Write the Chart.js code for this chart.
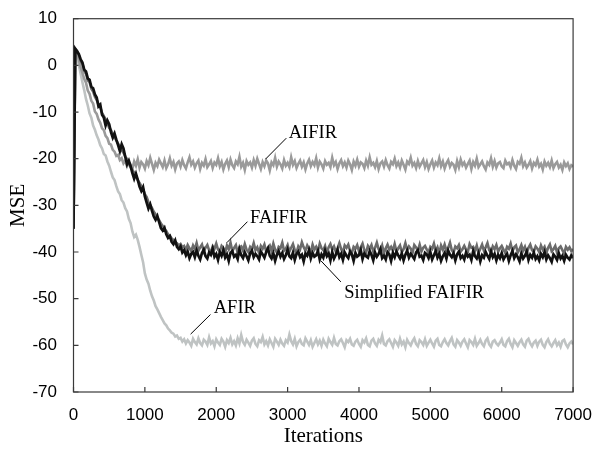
<!DOCTYPE html>
<html>
<head>
<meta charset="utf-8">
<script src="https://cdn.jsdelivr.net/npm/chart.js@4"></script>
<style>
  body { margin: 0; background: #fff; }
  canvas { display: block; }
</style>
</head>
<body>
<canvas id="mseChart" width="597" height="450"></canvas>
<script>
// Iterationen (gemeinsame x-Werte aller Kurven), je Zeile 500 Iterationen
const iterations = [
  0, 25, 50, 75, 100, 125, 150, 175, 200, 225, 250, 275, 300, 325, 350, 375, 400, 425, 450, 475,
  500, 525, 550, 575, 600, 625, 650, 675, 700, 725, 750, 775, 800, 825, 850, 875, 900, 925, 950, 975,
  1000, 1025, 1050, 1075, 1100, 1125, 1150, 1175, 1200, 1225, 1250, 1275, 1300, 1325, 1350, 1375, 1400, 1425, 1450, 1475,
  1500, 1525, 1550, 1575, 1600, 1625, 1650, 1675, 1700, 1725, 1750, 1775, 1800, 1825, 1850, 1875, 1900, 1925, 1950, 1975,
  2000, 2025, 2050, 2075, 2100, 2125, 2150, 2175, 2200, 2225, 2250, 2275, 2300, 2325, 2350, 2375, 2400, 2425, 2450, 2475,
  2500, 2525, 2550, 2575, 2600, 2625, 2650, 2675, 2700, 2725, 2750, 2775, 2800, 2825, 2850, 2875, 2900, 2925, 2950, 2975,
  3000, 3025, 3050, 3075, 3100, 3125, 3150, 3175, 3200, 3225, 3250, 3275, 3300, 3325, 3350, 3375, 3400, 3425, 3450, 3475,
  3500, 3525, 3550, 3575, 3600, 3625, 3650, 3675, 3700, 3725, 3750, 3775, 3800, 3825, 3850, 3875, 3900, 3925, 3950, 3975,
  4000, 4025, 4050, 4075, 4100, 4125, 4150, 4175, 4200, 4225, 4250, 4275, 4300, 4325, 4350, 4375, 4400, 4425, 4450, 4475,
  4500, 4525, 4550, 4575, 4600, 4625, 4650, 4675, 4700, 4725, 4750, 4775, 4800, 4825, 4850, 4875, 4900, 4925, 4950, 4975,
  5000, 5025, 5050, 5075, 5100, 5125, 5150, 5175, 5200, 5225, 5250, 5275, 5300, 5325, 5350, 5375, 5400, 5425, 5450, 5475,
  5500, 5525, 5550, 5575, 5600, 5625, 5650, 5675, 5700, 5725, 5750, 5775, 5800, 5825, 5850, 5875, 5900, 5925, 5950, 5975,
  6000, 6025, 6050, 6075, 6100, 6125, 6150, 6175, 6200, 6225, 6250, 6275, 6300, 6325, 6350, 6375, 6400, 6425, 6450, 6475,
  6500, 6525, 6550, 6575, 6600, 6625, 6650, 6675, 6700, 6725, 6750, 6775, 6800, 6825, 6850, 6875, 6900, 6925, 6950, 6975,
  7000
];

// MSE-Werte in dB
const simplifiedFaifir = [
  -35, 3.5, 3.0, 2.4, 1.3, 0.6, -0.9, -1.3, -2.8, -3.1, -4.6, -4.9, -6.2, -6.9, -8.8, -8.4, -10.6, -11.2, -12.9, -11.8,
  -12.6, -14.3, -15.5, -14.6, -15.9, -17.1, -18.4, -16.9, -17.8, -19.6, -21.2, -20.4, -21.6, -23.1, -24.3, -23.2, -24.5, -26.0, -26.9, -26.1,
  -28.1, -29.4, -30.7, -29.8, -31.2, -32.4, -33.1, -32.3, -33.6, -34.9, -35.4, -34.8, -36.2, -37.0, -36.6, -37.8, -38.3, -37.5, -38.9, -39.4,
  -38.8, -40.1, -39.6, -40.7, -39.9, -41.3, -40.4, -40.0, -41.1, -39.7, -40.8, -41.6, -40.2, -39.5, -40.9, -41.4, -40.1, -40.6, -39.3, -41.0,
  -40.4, -41.7, -40.0, -40.8, -39.6, -41.2, -40.5, -41.9, -40.2, -39.8, -41.0, -40.6, -41.5, -39.4, -40.7, -41.3, -40.1, -40.9, -41.8, -40.3,
  -39.7, -41.1, -40.4, -40.9, -41.6, -39.9, -40.5, -41.2, -40.0, -39.2, -40.8, -41.4, -40.3, -41.9, -40.6, -39.8, -41.0, -40.2, -41.5, -40.7,
  -39.5, -40.9, -41.3, -40.1, -41.7, -40.4, -39.9, -41.1, -40.6, -42.0, -40.3, -40.8, -39.6, -41.4, -40.2, -41.0, -40.7, -39.8, -41.6, -40.5,
  -41.2, -39.7, -40.9, -40.3, -41.8, -40.0, -41.4, -40.6, -39.5, -41.1, -40.4, -41.7, -40.1, -40.8, -41.3, -39.9, -40.5, -41.9, -40.2, -41.0,
  -40.7, -39.6, -41.5, -40.3, -40.9, -41.2, -39.8, -40.6, -41.8, -40.1, -41.0, -40.4, -39.4, -41.3, -40.8, -41.6, -40.0, -40.5, -41.9, -40.2,
  -41.1, -39.9, -40.7, -41.4, -40.3, -41.8, -40.6, -39.7, -41.2, -40.4, -40.9, -41.5, -40.1, -39.6, -41.0, -40.8, -41.7, -40.2, -40.5, -41.3,
  -40.0, -41.6, -40.7, -39.8, -41.2, -40.4, -41.9, -40.9, -40.2, -41.4, -39.7, -40.6, -41.1, -40.3, -41.8, -40.5, -39.9, -41.3, -40.8, -41.6,
  -40.1, -41.0, -40.6, -41.7, -39.8, -40.9, -41.4, -40.3, -42.0, -40.7, -41.2, -40.0, -40.8, -41.5, -39.9, -41.1, -40.4, -41.8, -40.6, -41.3,
  -40.2, -41.6, -40.9, -40.4, -41.9, -40.7, -39.8, -41.3, -40.5, -41.1, -42.0, -40.3, -41.4, -40.8, -39.9, -41.7, -40.6, -41.2, -40.1, -41.5,
  -40.9, -41.8, -40.4, -41.1, -40.0, -41.6, -40.7, -41.3, -42.1, -40.5, -41.0, -41.7, -40.3, -41.4, -40.8, -41.9, -40.6, -41.2, -41.6, -40.7,
  -41.3
];

const faifir = [
  -35, 3.6, 3.1, 2.2, 1.0, 0.3, -1.2, -1.8, -3.2, -3.6, -5.0, -5.6, -6.7, -7.4, -8.3, -9.0, -10.2, -10.9, -11.6, -12.3,
  -13.4, -13.9, -14.6, -15.4, -16.1, -16.8, -17.3, -18.2, -18.7, -19.5, -20.1, -21.0, -21.8, -22.4, -23.0, -23.7, -24.6, -25.2, -25.9, -26.5,
  -27.6, -28.2, -29.3, -29.9, -30.6, -31.4, -31.9, -32.7, -33.2, -33.9, -34.4, -35.1, -35.5, -36.2, -36.5, -37.1, -37.4, -37.9, -38.1, -38.6,
  -38.3, -39.0, -38.7, -39.6, -38.5, -39.2, -39.8, -38.6, -39.4, -38.1, -39.7, -39.0, -38.4, -39.9, -39.1, -38.5, -39.6, -40.0, -38.8, -39.3,
  -38.2, -39.5, -39.9, -38.7, -39.2, -40.1, -38.6, -39.4, -38.0, -39.8, -39.1, -38.5, -40.2, -39.0, -38.8, -39.7, -38.3, -39.5, -40.0, -38.9,
  -39.4, -38.1, -39.6, -39.0, -40.2, -38.7, -39.3, -38.4, -39.9, -39.1, -38.6, -39.8, -38.2, -39.5, -40.1, -38.9, -39.2, -38.0, -39.7, -39.3,
  -38.5, -39.9, -39.1, -38.3, -39.6, -40.2, -38.8, -39.4, -37.9, -39.0, -39.7, -38.6, -39.3, -40.0, -38.4, -39.5, -38.9, -39.8, -38.2, -39.2,
  -39.6, -38.7, -40.1, -39.0, -38.3, -39.5, -38.8, -39.9, -39.2, -38.1, -39.4, -40.0, -38.6, -39.1, -38.4, -39.7, -40.2, -38.9, -39.3, -38.5,
  -39.8, -39.0, -38.2, -39.6, -40.1, -38.7, -39.3, -38.5, -39.9, -39.1, -38.0, -39.4, -39.8, -38.6, -40.2, -39.2, -38.4, -39.5, -38.9, -39.7,
  -38.3, -39.9, -39.2, -38.6, -40.0, -39.4, -38.1, -39.6, -38.8, -39.3, -40.2, -38.5, -39.0, -39.7, -38.4, -39.9, -39.1, -38.7, -39.5, -40.1,
  -38.9, -39.3, -38.2, -39.8, -39.0, -40.3, -38.6, -39.5, -38.4, -39.7, -39.1, -38.0, -39.6, -40.1, -38.8, -39.2, -38.5, -39.9, -39.4, -38.7,
  -39.5, -40.0, -38.3, -39.1, -38.9, -39.8, -38.6, -40.2, -39.3, -38.4, -39.7, -39.0, -38.1, -39.6, -40.1, -38.8, -39.4, -38.5, -39.9, -39.2,
  -38.7, -39.5, -40.2, -38.9, -39.3, -38.2, -39.8, -39.0, -38.6, -40.1, -39.4, -38.5, -39.7, -38.9, -40.3, -39.1, -38.4, -39.6, -39.9, -38.8,
  -39.3, -40.0, -38.6, -39.5, -38.9, -40.2, -39.1, -38.4, -39.8, -39.4, -38.7, -40.1, -39.2, -38.8, -39.6, -40.3, -38.9, -39.5, -39.0, -39.8,
  -39.4
];

const aifir = [
  -35, 3.3, 2.5, 1.2, -0.4, -1.6, -2.9, -3.7, -5.4, -6.1, -7.6, -8.2, -9.9, -10.4, -11.6, -12.3, -13.5, -13.9, -15.1, -15.6,
  -16.8, -17.0, -18.1, -18.5, -19.4, -19.2, -20.3, -19.9, -21.0, -20.4, -21.6, -20.8, -21.3, -22.2, -20.6, -21.5, -20.1, -21.9, -20.7, -21.2,
  -22.1, -20.5, -21.4, -19.8, -21.1, -22.4, -20.9, -21.6, -20.2, -21.0, -21.8, -20.4, -22.0, -21.2, -19.9, -21.5, -20.7, -22.3, -21.0, -20.6,
  -21.7, -20.3, -21.4, -22.1, -20.8, -19.7, -21.3, -20.6, -21.9, -21.0, -20.4, -22.2, -20.9, -21.5, -20.1, -21.8, -21.2, -20.5, -22.0, -20.8,
  -21.3, -19.9, -21.6, -20.7, -22.3, -21.1, -20.4, -21.8, -20.2, -21.4, -22.0, -20.6, -21.2, -19.6, -21.7, -20.9, -22.4, -20.5, -21.3, -20.8,
  -21.9, -20.3, -21.5, -20.0, -21.1, -22.2, -20.7, -21.6, -20.4, -21.0, -22.5, -20.8, -21.4, -19.8, -21.7, -20.6, -21.2, -22.1, -20.3, -21.5,
  -20.9, -21.8, -19.7, -21.3, -20.5, -22.0, -21.1, -20.4, -21.7, -20.8, -22.3, -21.0, -20.2, -21.6, -20.7, -21.4, -19.9, -21.9, -20.6, -21.2,
  -22.1, -20.5, -21.3, -20.9, -21.8, -19.8, -21.4, -20.7, -22.2, -21.0, -20.3, -21.6, -20.8, -21.9, -20.4, -21.2, -22.4, -20.6, -21.5, -20.2,
  -21.7, -20.8, -21.1, -22.0, -20.4, -21.5, -19.7, -21.3, -20.9, -21.8, -20.5, -22.2, -21.0, -20.6, -21.7, -20.3, -21.4, -22.1, -20.7, -21.2,
  -20.0, -21.6, -20.8, -21.9, -20.4, -21.3, -22.3, -20.6, -21.1, -19.8, -21.5, -20.9, -22.0, -20.5, -21.7, -21.0, -20.3, -21.8, -20.7, -22.2,
  -21.2, -20.4, -21.9, -20.8, -21.4, -19.9, -21.6, -20.6, -22.1, -21.0, -20.3, -21.7, -20.9, -21.3, -22.4, -20.5, -21.8, -20.2, -21.4, -20.8,
  -21.9, -21.1, -20.4, -22.2, -20.7, -21.5, -20.0, -21.8, -21.2, -20.6, -21.6, -22.3, -20.8, -21.3, -19.9, -21.7, -20.5, -21.9, -21.0, -20.7,
  -21.6, -22.0, -20.4, -21.2, -20.9, -21.8, -20.3, -21.5, -22.2, -20.7, -21.1, -19.8, -21.6, -20.8, -21.9, -21.3, -20.5, -22.1, -20.9, -21.4,
  -20.2, -21.7, -21.1, -22.3, -20.6, -21.5, -20.9, -21.8, -20.4, -22.0, -21.2, -20.7, -21.9, -21.3, -22.4, -20.8, -21.6, -21.0, -22.2, -21.4,
  -21.7
];

const afir = [
  -35, 3.0, 2.0, 0.1, -1.8, -3.6, -5.3, -7.2, -8.6, -10.3, -11.2, -12.9, -13.8, -15.0, -15.9, -17.1, -17.8, -19.0, -19.3, -20.6,
  -21.5, -22.8, -24.0, -24.6, -25.9, -27.0, -27.6, -28.9, -29.4, -30.6, -31.3, -32.9, -33.8, -35.6, -36.8, -36.3, -37.4, -38.9, -40.6, -42.2,
  -44.6, -45.9, -46.8, -48.3, -49.5, -50.4, -51.6, -52.3, -53.1, -53.9, -54.6, -55.3, -55.7, -56.4, -56.8, -57.3, -57.5, -58.1, -57.9, -58.6,
  -58.4, -59.2, -58.7, -59.6, -58.9, -59.4, -60.1, -58.6, -59.3, -59.8, -58.5, -59.5, -60.0, -58.8, -59.2, -59.9, -58.3, -59.6, -59.1, -60.2,
  -58.7, -59.4, -59.9, -58.6, -59.2, -60.3, -58.9, -59.5, -58.4, -59.8, -59.1, -60.0, -58.5, -59.6, -57.8, -59.3, -59.9, -58.8, -59.4, -60.1,
  -59.0, -58.5, -59.7, -60.2, -58.9, -59.3, -58.2, -59.8, -59.1, -60.0, -58.7, -59.5, -60.3, -58.6, -59.2, -59.9, -58.8, -59.6, -60.1, -58.9,
  -59.4, -57.7, -59.1, -59.8, -58.6, -60.2, -59.3, -58.8, -59.7, -60.0, -58.5, -59.2, -59.9, -58.9, -60.3, -59.5, -58.7, -59.8, -59.0, -60.1,
  -58.8, -59.6, -60.2, -58.6, -59.3, -59.9, -58.4, -59.7, -60.0, -59.1, -58.7, -59.5, -60.4, -58.9, -59.3, -58.6, -59.8, -60.1, -59.2, -58.8,
  -59.7, -60.3, -58.9, -59.4, -58.5, -59.9, -60.2, -59.0, -58.6, -59.6, -60.1, -58.8, -59.3, -57.9, -59.7, -60.0, -59.1, -58.7, -59.5, -60.3,
  -58.9, -59.4, -60.1, -58.6, -59.8, -59.2, -60.4, -58.8, -59.5, -60.0, -59.1, -58.5, -59.7, -60.2, -58.9, -59.3, -59.9, -58.7, -60.1, -59.4,
  -58.8, -59.6, -60.3, -59.0, -58.6, -59.9, -60.2, -59.3, -58.7, -59.5, -60.0, -59.1, -58.4, -59.8, -60.3, -58.9, -59.4, -60.1, -59.2, -58.7,
  -59.6, -60.4, -58.9, -59.3, -59.9, -58.6, -60.1, -59.5, -58.8, -59.7, -60.2, -59.0, -58.5, -59.8, -60.3, -59.2, -58.9, -59.6, -60.0, -59.4,
  -58.7, -59.9, -60.2, -59.1, -58.6, -59.7, -60.4, -58.9, -59.5, -60.1, -59.3, -58.8, -59.8, -60.3, -59.0, -58.6, -59.6, -60.2, -59.4, -59.0,
  -60.1, -59.2, -58.8, -59.9, -60.4, -59.3, -58.7, -59.7, -60.2, -59.5, -58.9, -60.0, -59.4, -60.3, -59.1, -58.8, -59.8, -60.4, -59.6, -59.2,
  -59.8
];

// Beschriftungen im Diagramm: Text, Textanker und Hinweislinie (in Datenkoordinaten)
const callouts = [
  { text: 'AIFIR',              at: [3015, -15.6], from: [2690, -20.1], to: [2982, -15.6] },
  { text: 'FAIFIR',             at: [2474, -33.8], from: [2149, -38.0], to: [2437, -33.5] },
  { text: 'Simplified FAIFIR',  at: [3793, -49.8], from: [3468, -41.9], to: [3746, -46.4] },
  { text: 'AFIR',               at: [1965, -53.0], from: [1641, -57.6], to: [1919, -53.4] }
];

const toPoints = values => iterations.map((x, i) => ({ x: x, y: values[i] }));

function makeSet(label, values, color, width) {
  return {
    label: label,
    data: toPoints(values),
    borderColor: color,
    borderWidth: width,
    pointRadius: 0,
    tension: 0,
    fill: false
  };
}

// Rahmen, nach innen zeigende Ticks und Kurvenbeschriftungen
const framePlugin = {
  id: 'frame',
  afterDatasetsDraw(chart) {
    const { ctx, chartArea: a, scales: { x, y } } = chart;
    ctx.save();
    ctx.strokeStyle = '#3a3a3a';
    ctx.lineWidth = 1.2;
    ctx.strokeRect(a.left, a.top, a.right - a.left, a.bottom - a.top);

    ctx.beginPath();
    x.ticks.forEach(t => {
      const px = x.getPixelForValue(t.value);
      ctx.moveTo(px, a.bottom);
      ctx.lineTo(px, a.bottom - 5);
    });
    y.ticks.forEach(t => {
      const py = y.getPixelForValue(t.value);
      ctx.moveTo(a.left, py);
      ctx.lineTo(a.left + 5, py);
    });
    ctx.stroke();

    ctx.strokeStyle = '#000';
    ctx.lineWidth = 1;
    ctx.fillStyle = '#000';
    ctx.font = '18.5px "Liberation Serif", "Times New Roman", serif';
    ctx.textAlign = 'left';
    ctx.textBaseline = 'alphabetic';
    callouts.forEach(c => {
      ctx.beginPath();
      ctx.moveTo(x.getPixelForValue(c.from[0]), y.getPixelForValue(c.from[1]));
      ctx.lineTo(x.getPixelForValue(c.to[0]), y.getPixelForValue(c.to[1]));
      ctx.stroke();
      ctx.fillText(c.text, x.getPixelForValue(c.at[0]), y.getPixelForValue(c.at[1]));
    });
    ctx.restore();
  }
};

const tickFont = { family: '"Liberation Sans", Arial, sans-serif', size: 17 };
const titleFont = { family: '"Liberation Serif", "Times New Roman", serif', size: 21 };

new Chart(document.getElementById('mseChart'), {
  type: 'line',
  data: {
    datasets: [
      makeSet('Simplified FAIFIR', simplifiedFaifir, '#111111', 2.7),
      makeSet('FAIFIR', faifir, '#6b6b6b', 2.6),
      makeSet('AIFIR', aifir, '#9a9a9a', 2.6),
      makeSet('AFIR', afir, '#bfc3c3', 2.6)
    ]
  },
  options: {
    responsive: false,
    devicePixelRatio: 1,
    animation: false,
    layout: { padding: { left: 0, top: 11.7, right: 19.3, bottom: 0 } },
    plugins: {
      legend: { display: false },
      tooltip: { enabled: false }
    },
    scales: {
      x: {
        type: 'linear',
        min: 0,
        max: 7000,
        grid: { display: false },
        border: { display: false },
        ticks: { stepSize: 1000, color: '#000', font: tickFont, padding: 5, maxRotation: 0, callback: v => String(v) },
        title: { display: true, text: 'Iterations', color: '#000', font: titleFont, padding: { top: 0, bottom: 1 } },
        afterFit: scale => { scale.height = 58; }
      },
      y: {
        type: 'linear',
        min: -70,
        max: 10,
        grid: { display: false },
        border: { display: false },
        ticks: { stepSize: 10, color: '#000', font: tickFont, padding: 8.5, callback: v => String(v) },
        title: { display: true, text: 'MSE', color: '#000', font: titleFont, padding: { top: 6, bottom: 0 } },
        afterFit: scale => { scale.width = 73.5; }
      }
    }
  },
  plugins: [framePlugin]
});
</script>
</body>
</html>
